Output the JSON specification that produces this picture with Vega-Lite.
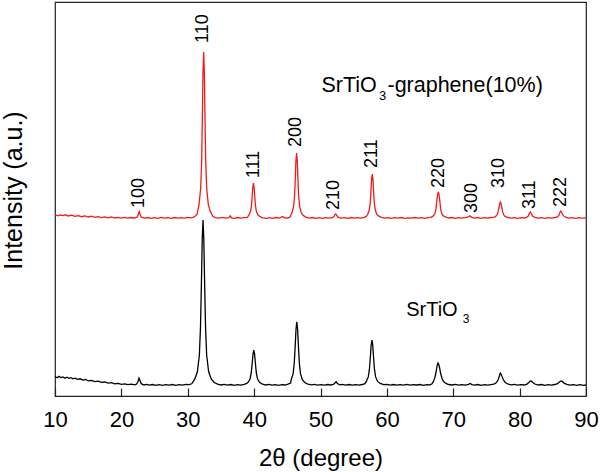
{
  "$schema": "https://vega.github.io/schema/vega-lite/v6.json",
  "width": 531,
  "height": 394,
  "autosize": {"type": "none"},
  "padding": {"left": 55, "top": 2, "right": 14, "bottom": 76},
  "background": "white",
  "config": {
    "view": {"stroke": "#222", "strokeWidth": 1.2},
    "font": "Liberation Sans",
    "axis": {"grid": false}
  },
  "datasets": {
    "red": [
      {"x":10.0,"y":181.5},{"x":10.4,"y":180.2},{"x":10.8,"y":181.0},{"x":11.2,"y":180.4},{"x":11.6,"y":181.2},{"x":12.0,"y":180.0},{"x":12.5,"y":180.8},{"x":13.0,"y":179.6},{"x":13.5,"y":180.4},{"x":14.0,"y":179.3},{"x":14.5,"y":180.1},{"x":15.0,"y":179.0},{"x":15.5,"y":179.8},{"x":16.0,"y":178.6},{"x":16.5,"y":179.4},{"x":17.0,"y":178.4},{"x":17.5,"y":179.2},{"x":18.0,"y":178.2},{"x":18.5,"y":179.0},{"x":19.0,"y":178.0},{"x":19.5,"y":178.7},{"x":20.0,"y":177.8},{"x":20.5,"y":178.6},{"x":21.0,"y":177.9},{"x":21.5,"y":178.5},{"x":22.0,"y":178.0},{"x":22.4,"y":179.0},{"x":22.6,"y":182.5},{"x":22.7,"y":184.3},{"x":22.8,"y":182.0},{"x":23.0,"y":178.8},{"x":23.5,"y":177.8},{"x":24.0,"y":178.5},{"x":24.5,"y":177.6},{"x":25.0,"y":178.4},{"x":25.5,"y":177.7},{"x":26.0,"y":178.6},{"x":26.5,"y":177.8},{"x":27.0,"y":178.4},{"x":27.5,"y":177.6},{"x":28.0,"y":178.5},{"x":28.5,"y":177.9},{"x":29.0,"y":178.3},{"x":29.5,"y":177.8},{"x":30.0,"y":178.6},{"x":30.5,"y":178.2},{"x":31.0,"y":179.0},{"x":31.4,"y":181.5},{"x":31.7,"y":191.3},{"x":31.95,"y":207.9},{"x":32.1,"y":236.1},{"x":32.2,"y":277.6},{"x":32.3,"y":324.1},{"x":32.4,"y":344},{"x":32.5,"y":324.1},{"x":32.6,"y":277.6},{"x":32.7,"y":236.1},{"x":32.85,"y":207.9},{"x":33.1,"y":191.3},{"x":33.4,"y":184.6},{"x":33.8,"y":179.5},{"x":34.2,"y":178.4},{"x":34.7,"y":177.8},{"x":35.2,"y":178.6},{"x":35.7,"y":177.9},{"x":36.2,"y":178.4},{"x":36.4,"y":180.2},{"x":36.6,"y":178.1},{"x":37.0,"y":177.7},{"x":37.5,"y":178.5},{"x":38.0,"y":177.8},{"x":38.5,"y":178.3},{"x":39.0,"y":178.6},{"x":39.2,"y":180.8},{"x":39.45,"y":184.3},{"x":39.6,"y":190.3},{"x":39.7,"y":199},{"x":39.8,"y":208.8},{"x":39.9,"y":213},{"x":40.0,"y":208.8},{"x":40.1,"y":199},{"x":40.2,"y":190.3},{"x":40.35,"y":184.3},{"x":40.6,"y":180.8},{"x":40.9,"y":179.4},{"x":41.3,"y":178.2},{"x":41.8,"y":177.6},{"x":42.3,"y":178.4},{"x":42.8,"y":177.7},{"x":43.3,"y":178.5},{"x":43.8,"y":177.9},{"x":44.3,"y":179.6},{"x":44.6,"y":178.2},{"x":45.0,"y":178.0},{"x":45.4,"y":178.9},{"x":45.7,"y":183.2},{"x":45.95,"y":189.7},{"x":46.1,"y":200.8},{"x":46.2,"y":217},{"x":46.3,"y":235.2},{"x":46.4,"y":243},{"x":46.5,"y":235.2},{"x":46.6,"y":217},{"x":46.7,"y":200.8},{"x":46.85,"y":189.7},{"x":47.1,"y":183.2},{"x":47.4,"y":180.6},{"x":47.8,"y":178.8},{"x":48.3,"y":177.8},{"x":48.8,"y":178.5},{"x":49.3,"y":177.6},{"x":49.8,"y":178.3},{"x":50.3,"y":177.7},{"x":50.8,"y":178.4},{"x":51.3,"y":177.9},{"x":51.8,"y":178.3},{"x":52.0,"y":179.2},{"x":52.2,"y":181.5},{"x":52.3,"y":182},{"x":52.45,"y":180.5},{"x":52.7,"y":178.6},{"x":53.1,"y":177.8},{"x":53.6,"y":178.4},{"x":54.1,"y":177.7},{"x":54.6,"y":178.5},{"x":55.1,"y":177.8},{"x":55.6,"y":178.3},{"x":56.1,"y":177.9},{"x":56.6,"y":178.6},{"x":56.9,"y":179.6},{"x":57.1,"y":181.5},{"x":57.35,"y":185.9},{"x":57.5,"y":193.4},{"x":57.6,"y":204.4},{"x":57.7,"y":216.7},{"x":57.8,"y":222},{"x":57.9,"y":216.7},{"x":58.0,"y":204.4},{"x":58.1,"y":193.4},{"x":58.25,"y":185.9},{"x":58.5,"y":181.5},{"x":58.8,"y":179.8},{"x":59.2,"y":178.6},{"x":59.7,"y":177.8},{"x":60.2,"y":178.4},{"x":60.7,"y":177.6},{"x":61.2,"y":178.3},{"x":61.7,"y":177.9},{"x":62.2,"y":178.5},{"x":62.7,"y":177.7},{"x":63.2,"y":178.2},{"x":63.7,"y":177.8},{"x":64.2,"y":178.5},{"x":64.7,"y":177.9},{"x":65.2,"y":178.3},{"x":65.7,"y":177.6},{"x":66.2,"y":178.4},{"x":66.7,"y":178.9},{"x":67.0,"y":180.1},{"x":67.25,"y":182.7},{"x":67.4,"y":187.1},{"x":67.5,"y":193.6},{"x":67.63,"y":200.9},{"x":67.75,"y":204},{"x":67.87,"y":200.9},{"x":68.0,"y":193.6},{"x":68.1,"y":187.1},{"x":68.25,"y":182.7},{"x":68.5,"y":180.1},{"x":68.9,"y":178.9},{"x":69.3,"y":178.0},{"x":69.8,"y":178.5},{"x":70.3,"y":177.7},{"x":70.8,"y":178.4},{"x":71.3,"y":177.8},{"x":71.8,"y":178.3},{"x":72.2,"y":178.8},{"x":72.5,"y":180.2},{"x":72.8,"y":178.7},{"x":73.2,"y":177.9},{"x":73.7,"y":178.4},{"x":74.2,"y":177.7},{"x":74.7,"y":178.3},{"x":75.2,"y":177.8},{"x":75.7,"y":178.5},{"x":76.2,"y":178.9},{"x":76.4,"y":179.6},{"x":76.6,"y":181.2},{"x":76.75,"y":184.1},{"x":76.87,"y":187.9},{"x":77.0,"y":192.4},{"x":77.1,"y":194},{"x":77.2,"y":192.4},{"x":77.33,"y":187.9},{"x":77.45,"y":184.1},{"x":77.6,"y":181.2},{"x":77.8,"y":179.6},{"x":78.2,"y":178.6},{"x":78.7,"y":177.8},{"x":79.2,"y":178.4},{"x":79.7,"y":177.7},{"x":80.2,"y":178.3},{"x":80.7,"y":178.0},{"x":81.1,"y":178.9},{"x":81.3,"y":180.0},{"x":81.45,"y":182.5},{"x":81.6,"y":184},{"x":81.75,"y":182.5},{"x":81.95,"y":180.0},{"x":82.3,"y":178.6},{"x":82.8,"y":177.8},{"x":83.3,"y":178.4},{"x":83.8,"y":177.7},{"x":84.3,"y":178.3},{"x":84.8,"y":177.9},{"x":85.3,"y":178.5},{"x":85.7,"y":179.2},{"x":85.9,"y":180.6},{"x":86.05,"y":183.3},{"x":86.2,"y":185},{"x":86.35,"y":183.3},{"x":86.55,"y":180.6},{"x":86.9,"y":178.8},{"x":87.4,"y":177.9},{"x":87.9,"y":178.4},{"x":88.4,"y":177.7},{"x":88.9,"y":178.3},{"x":89.4,"y":177.8},{"x":90.0,"y":178.2}
    ],
    "black": [
      {"x":10.0,"y":19.5},{"x":10.3,"y":18.2},{"x":10.6,"y":19.6},{"x":10.9,"y":18.4},{"x":11.2,"y":19.0},{"x":11.5,"y":17.8},{"x":11.8,"y":18.8},{"x":12.1,"y":17.6},{"x":12.4,"y":18.3},{"x":12.7,"y":17.2},{"x":13.0,"y":17.9},{"x":13.4,"y":16.6},{"x":13.8,"y":17.2},{"x":14.2,"y":15.9},{"x":14.6,"y":16.5},{"x":15.0,"y":15.2},{"x":15.5,"y":15.7},{"x":16.0,"y":14.4},{"x":16.5,"y":14.9},{"x":17.0,"y":13.6},{"x":17.5,"y":14.0},{"x":18.0,"y":12.8},{"x":18.5,"y":13.3},{"x":19.0,"y":12.2},{"x":19.5,"y":12.7},{"x":20.0,"y":11.7},{"x":20.5,"y":12.2},{"x":21.0,"y":11.3},{"x":21.5,"y":11.9},{"x":22.0,"y":11.2},{"x":22.3,"y":12.0},{"x":22.5,"y":14.5},{"x":22.65,"y":17.8},{"x":22.8,"y":15.5},{"x":23.0,"y":12.3},{"x":23.4,"y":11.0},{"x":23.8,"y":11.6},{"x":24.2,"y":10.8},{"x":24.7,"y":11.5},{"x":25.2,"y":10.7},{"x":25.7,"y":11.4},{"x":26.2,"y":10.6},{"x":26.7,"y":11.3},{"x":27.2,"y":10.8},{"x":27.7,"y":11.5},{"x":28.2,"y":10.7},{"x":28.7,"y":11.3},{"x":29.2,"y":10.9},{"x":29.7,"y":11.6},{"x":30.2,"y":11.3},{"x":30.6,"y":12.2},{"x":31.05,"y":16.8},{"x":31.45,"y":24.2},{"x":31.75,"y":40.7},{"x":31.92,"y":68.8},{"x":32.05,"y":110},{"x":32.18,"y":156.2},{"x":32.3,"y":176},{"x":32.42,"y":156.2},{"x":32.55,"y":110},{"x":32.68,"y":68.8},{"x":32.85,"y":40.7},{"x":33.15,"y":24.2},{"x":33.55,"y":16.8},{"x":34.0,"y":13.5},{"x":34.5,"y":11.8},{"x":35.0,"y":11.0},{"x":35.5,"y":11.6},{"x":36.0,"y":10.8},{"x":36.5,"y":11.5},{"x":37.0,"y":10.7},{"x":37.5,"y":11.3},{"x":38.0,"y":10.9},{"x":38.5,"y":11.6},{"x":38.9,"y":12.6},{"x":39.1,"y":13.8},{"x":39.4,"y":17.3},{"x":39.57,"y":23.3},{"x":39.7,"y":32},{"x":39.83,"y":41.8},{"x":39.95,"y":46},{"x":40.07,"y":41.8},{"x":40.2,"y":32},{"x":40.33,"y":23.3},{"x":40.5,"y":17.3},{"x":40.8,"y":13.8},{"x":41.2,"y":12.2},{"x":41.7,"y":11.0},{"x":42.2,"y":11.6},{"x":42.7,"y":10.8},{"x":43.2,"y":11.4},{"x":43.7,"y":10.7},{"x":44.2,"y":11.3},{"x":44.7,"y":11.0},{"x":45.1,"y":11.8},{"x":45.5,"y":13.0},{"x":45.58,"y":16.1},{"x":45.88,"y":22.4},{"x":46.05,"y":33.2},{"x":46.18,"y":49},{"x":46.31,"y":66.7},{"x":46.43,"y":74.3},{"x":46.55,"y":66.7},{"x":46.68,"y":49},{"x":46.81,"y":33.2},{"x":46.98,"y":22.4},{"x":47.28,"y":16.1},{"x":47.68,"y":13.2},{"x":48.1,"y":11.9},{"x":48.6,"y":11.1},{"x":49.1,"y":11.6},{"x":49.6,"y":10.8},{"x":50.1,"y":11.4},{"x":50.6,"y":10.9},{"x":51.1,"y":11.5},{"x":51.6,"y":11.0},{"x":52.0,"y":11.8},{"x":52.2,"y":13.2},{"x":52.35,"y":14.2},{"x":52.55,"y":12.5},{"x":52.9,"y":11.2},{"x":53.3,"y":11.6},{"x":53.8,"y":10.8},{"x":54.3,"y":11.5},{"x":54.8,"y":10.9},{"x":55.3,"y":11.4},{"x":55.8,"y":10.8},{"x":56.3,"y":11.5},{"x":56.7,"y":12.4},{"x":56.9,"y":14.6},{"x":57.2,"y":19.1},{"x":57.37,"y":26.8},{"x":57.5,"y":38},{"x":57.63,"y":50.6},{"x":57.75,"y":56},{"x":57.87,"y":50.6},{"x":58.0,"y":38},{"x":58.13,"y":26.8},{"x":58.3,"y":19.1},{"x":58.6,"y":14.6},{"x":59.0,"y":12.6},{"x":59.5,"y":11.3},{"x":60.0,"y":11.7},{"x":60.5,"y":10.9},{"x":61.0,"y":11.5},{"x":61.5,"y":10.8},{"x":62.0,"y":11.4},{"x":62.5,"y":10.9},{"x":63.0,"y":11.6},{"x":63.5,"y":10.8},{"x":64.0,"y":11.3},{"x":64.5,"y":11.0},{"x":65.0,"y":11.5},{"x":65.5,"y":10.7},{"x":66.0,"y":11.4},{"x":66.5,"y":11.2},{"x":66.8,"y":12.3},{"x":67.0,"y":14.3},{"x":67.2,"y":17.6},{"x":67.35,"y":22},{"x":67.5,"y":27.5},{"x":67.6,"y":31.2},{"x":67.7,"y":33},{"x":67.82,"y":31.5},{"x":67.95,"y":28},{"x":68.1,"y":22.5},{"x":68.3,"y":17.8},{"x":68.55,"y":14.5},{"x":68.9,"y":12.6},{"x":69.3,"y":11.5},{"x":69.8,"y":11.0},{"x":70.3,"y":11.6},{"x":70.8,"y":10.8},{"x":71.3,"y":11.4},{"x":71.8,"y":10.9},{"x":72.3,"y":11.6},{"x":72.55,"y":12.5},{"x":72.8,"y":11.4},{"x":73.2,"y":10.9},{"x":73.7,"y":11.5},{"x":74.2,"y":10.7},{"x":74.7,"y":11.3},{"x":75.2,"y":10.8},{"x":75.7,"y":11.4},{"x":76.1,"y":11.9},{"x":76.4,"y":12.8},{"x":76.6,"y":14.4},{"x":76.8,"y":16.8},{"x":76.95,"y":20},{"x":77.05,"y":22.4},{"x":77.1,"y":23},{"x":77.2,"y":22},{"x":77.35,"y":19.4},{"x":77.55,"y":16.2},{"x":77.8,"y":13.8},{"x":78.2,"y":12.0},{"x":78.7,"y":11.2},{"x":79.2,"y":11.6},{"x":79.7,"y":10.8},{"x":80.2,"y":11.4},{"x":80.7,"y":11.0},{"x":81.1,"y":11.9},{"x":81.35,"y":13.3},{"x":81.6,"y":14.8},{"x":81.75,"y":15},{"x":81.95,"y":13.8},{"x":82.3,"y":12.0},{"x":82.8,"y":11.0},{"x":83.3,"y":11.5},{"x":83.8,"y":10.7},{"x":84.3,"y":11.3},{"x":84.8,"y":10.8},{"x":85.3,"y":11.5},{"x":85.7,"y":12.3},{"x":85.95,"y":13.8},{"x":86.2,"y":15},{"x":86.4,"y":14.6},{"x":86.7,"y":12.9},{"x":87.1,"y":11.6},{"x":87.6,"y":10.9},{"x":88.1,"y":11.4},{"x":88.6,"y":10.7},{"x":89.1,"y":11.3},{"x":89.6,"y":10.6},{"x":90.0,"y":11.0}
    ],
    "peaks": [
      {"x":22.6,"y":188,"label":"100"},{"x":32.35,"y":353,"label":"110"},{"x":40.0,"y":218,"label":"111"},{"x":46.35,"y":249,"label":"200"},{"x":52.1,"y":186,"label":"210"},{"x":57.8,"y":228,"label":"211"},{"x":67.8,"y":208,"label":"220"},{"x":72.9,"y":183,"label":"300"},{"x":76.9,"y":208,"label":"310"},{"x":81.5,"y":187,"label":"311"},{"x":86.2,"y":189,"label":"222"}
    ],
    "namesTop": [
      {"x":50.15,"y":303.7,"t":"SrTiO"},{"x":60.09,"y":303.7,"t":"-graphene(10%)"}
    ],
    "namesBottom": [
      {"x":62.91,"y":80.3,"t":"SrTiO"}
    ],
    "subsTop": [
      {"x":58.81,"y":296,"t":"3"}
    ],
    "subsBottom": [
      {"x":71.44,"y":72.7,"t":"3"}
    ]
  },
  "layer": [
    {
      "data": {"name": "red"},
      "mark": {"type": "line", "color": "#f21a1a", "strokeWidth": 1.3, "interpolate": "linear"},
      "encoding": {
        "x": {"field": "x", "type": "quantitative",
          "scale": {"domain": [10, 90], "nice": false, "zero": false},
          "axis": {
            "title": "2θ (degree)", "titleFontSize": 24, "titleFont": "Liberation Sans", "titleFontWeight": "normal", "titleColor": "#000",
            "titleY": 69, "titleBaseline": "alphabetic",
            "values": [10,15,20,25,30,35,40,45,50,55,60,65,70,75,80,85,90],
            "labelExpr": "datum.value % 10 === 0 ? datum.label : ''",
            "labelFontSize": 22, "labelFont": "Liberation Sans", "labelColor": "#000", "labelPadding": 21, "labelFlush": false, "labelOverlap": false,
            "tickSize": {"condition": {"test": "datum.value % 10 === 0", "value": -8}, "value": -4},
            "tickColor": "#222", "tickWidth": 1.2, "domain": false, "grid": false
          }
        },
        "y": {"field": "y", "type": "quantitative",
          "scale": {"domain": [0, 394], "nice": false, "zero": false},
          "axis": {
            "title": "Intensity (a.u.)", "titleFontSize": 25, "titleFont": "Liberation Sans", "titleFontWeight": "normal", "titleColor": "#000",
            "labels": false, "ticks": false, "domain": false, "grid": false,
            "titleAngle": -90, "titleX": -29, "titleY": 188, "titleBaseline": "bottom", "titleAlign": "center"
          }
        }
      }
    },
    {
      "data": {"name": "black"},
      "mark": {"type": "line", "color": "#000", "strokeWidth": 1.3},
      "encoding": {
        "x": {"field": "x", "type": "quantitative"},
        "y": {"field": "y", "type": "quantitative"}
      }
    },
    {
      "data": {"name": "peaks"},
      "mark": {"type": "text", "angle": 270, "align": "left", "baseline": "middle", "fontSize": 18, "font": "Liberation Sans", "color": "#000"},
      "encoding": {
        "x": {"field": "x", "type": "quantitative"},
        "y": {"field": "y", "type": "quantitative"},
        "text": {"field": "label"}
      }
    },
    {
      "data": {"name": "namesTop"},
      "mark": {"type": "text", "align": "left", "baseline": "alphabetic", "fontSize": 21.5, "font": "Liberation Sans", "color": "#000"},
      "encoding": {
        "x": {"field": "x", "type": "quantitative"},
        "y": {"field": "y", "type": "quantitative"},
        "text": {"field": "t"}
      }
    },
    {
      "data": {"name": "namesBottom"},
      "mark": {"type": "text", "align": "left", "baseline": "alphabetic", "fontSize": 20, "font": "Liberation Sans", "color": "#000"},
      "encoding": {
        "x": {"field": "x", "type": "quantitative"},
        "y": {"field": "y", "type": "quantitative"},
        "text": {"field": "t"}
      }
    },
    {
      "data": {"name": "subsTop"},
      "mark": {"type": "text", "align": "left", "baseline": "alphabetic", "fontSize": 13, "font": "Liberation Sans", "color": "#000"},
      "encoding": {
        "x": {"field": "x", "type": "quantitative"},
        "y": {"field": "y", "type": "quantitative"},
        "text": {"field": "t"}
      }
    },
    {
      "data": {"name": "subsBottom"},
      "mark": {"type": "text", "align": "left", "baseline": "alphabetic", "fontSize": 12, "font": "Liberation Sans", "color": "#000"},
      "encoding": {
        "x": {"field": "x", "type": "quantitative"},
        "y": {"field": "y", "type": "quantitative"},
        "text": {"field": "t"}
      }
    }
  ]
}
